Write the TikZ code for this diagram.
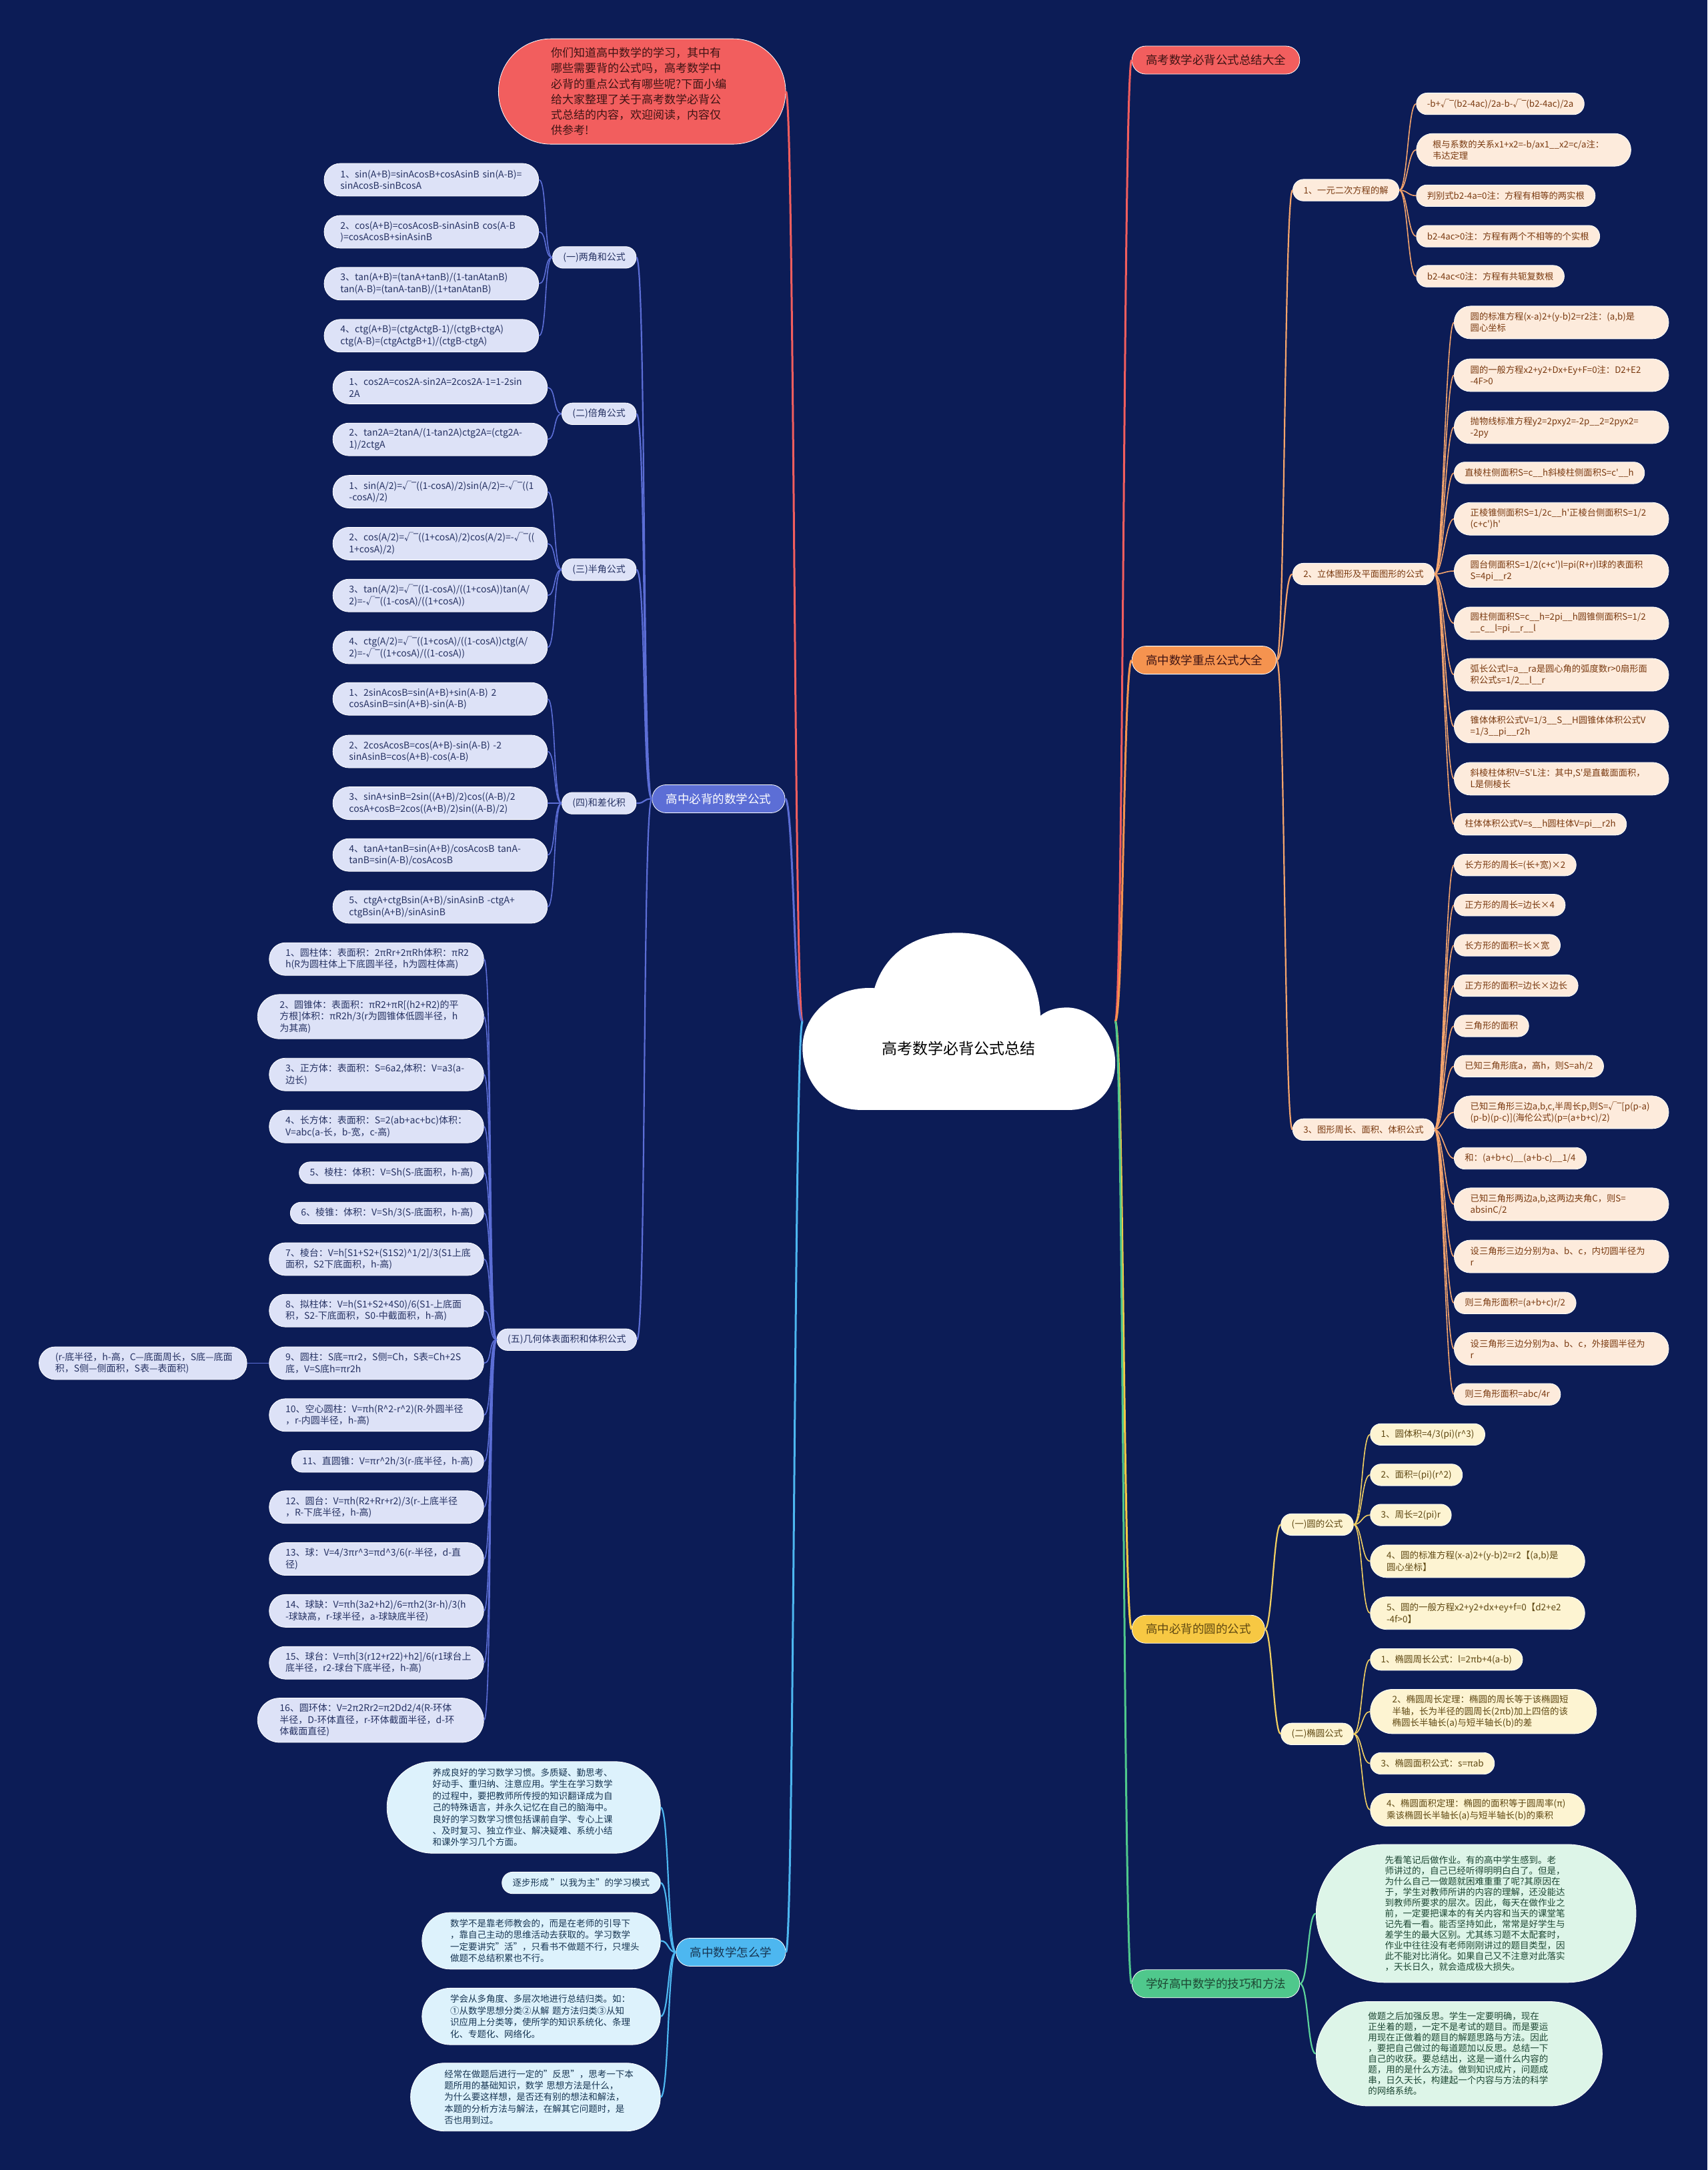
\documentclass[tikz,border=0pt]{standalone}
\usepackage{fontspec}
\setmainfont{Noto Sans CJK SC}
\newfontfamily\ovfont{DejaVu Sans}
\usepackage{tikz}
\definecolor{nightbg}{HTML}{0C1C56}
\definecolor{coral}{HTML}{F25E5E}
\definecolor{coralink}{HTML}{3E1414}
\definecolor{iris}{HTML}{5C6ED6}
\definecolor{lilac}{HTML}{DDE2F7}
\definecolor{lilacink}{HTML}{263263}
\definecolor{sky}{HTML}{4DB7F0}
\definecolor{skysoft}{HTML}{DDF2FC}
\definecolor{skyink}{HTML}{173552}
\definecolor{tangerine}{HTML}{F5934F}
\definecolor{peach}{HTML}{FDEBDC}
\definecolor{peachink}{HTML}{7A3A10}
\definecolor{peachline}{HTML}{F4A46C}
\definecolor{sun}{HTML}{F7C843}
\definecolor{cream}{HTML}{FDF4D2}
\definecolor{creamink}{HTML}{5F4812}
\definecolor{sunline}{HTML}{F2D062}
\definecolor{jade}{HTML}{4FC88C}
\definecolor{mint}{HTML}{DDF5E8}
\definecolor{mintink}{HTML}{1D4733}
\definecolor{jadeline}{HTML}{5CD39A}
\newcommand{\upar}{\textasciicircum}
\newcommand{\dbar}{\_\_}
\newcommand{\prm}{\textquotesingle}
\newcommand{\sqrtmark}{√{\ovfont ‾}}

\begin{document}
\begin{tikzpicture}[x=2.0746pt,y=-2.0746pt,
  stad/.style={rectangle,rounded corners=#1,minimum height={2*#1+0.4pt},inner xsep=#1,inner ysep=1pt,
               align=left,draw=white,line width=0.8pt,
               execute at begin node={\hyphenpenalty=10000\exhyphenpenalty=10000}},
  one/.style={stad=16pt},
  two/.style={stad=24.3pt,text width=273pt},
  three/.style={stad=33pt,text width=273pt},
  four/.style={stad=42.2pt,text width=273pt},
  five/.style={stad=50.8pt,text width=273pt},
  seven/.style={stad=68.5pt,text width=273pt},
  eight/.style={stad=78pt,text width=273pt},
  twelve/.style={stad=103.3pt,text width=273pt},
  hub/.style={stad=20.8pt,font=\fontsize{17.5}{21}\selectfont},
  lilacbox/.style={fill=lilac,text=lilacink,font=\fontsize{14}{17.5}\selectfont},
  skybox/.style={fill=skysoft,text=skyink,font=\fontsize{13.5}{17.4}\selectfont},
  peachbox/.style={fill=peach,text=peachink,font=\fontsize{13.3}{17}\selectfont},
  creambox/.style={fill=cream,text=creamink,font=\fontsize{13.5}{17.5}\selectfont},
  mintbox/.style={fill=mint,text=mintink,font=\fontsize{13.5}{16}\selectfont},
  trunk/.style={line width=3pt},
  twig/.style={line width=2.2pt},
  link/.style={line width=1.6pt}
]
  \fill[nightbg] (0,0) rectangle (1234,1568);

  \fill[white] (622,802) .. controls (597,802) and (580,782) .. (580,757)
    .. controls (580,733) and (603,712) .. (632,714)
    .. controls (640,688) and (662,674) .. (692,674)
    .. controls (730,674) and (750,700) .. (752,734)
    .. controls (758,729) and (765,728) .. (772,728)
    .. controls (792,729) and (806,748) .. (806,768)
    .. controls (806,788) and (792,802) .. (773,802) -- cycle;
  \node[font=\fontsize{23}{27}\selectfont,text=black] (root) at (693,757.6) {高考数学必背公式总结};
  \coordinate (cl) at (580,738);
  \coordinate (cr) at (806,738);

  \node[stad=78.8pt,text width=273pt,fill=coral,text=coralink,font=\fontsize{17}{23.3}\selectfont,anchor=east] (intro) at (568,66.1)
    {你们知道高中数学的学习，其中有\\哪些需要背的公式吗，高考数学中\\必背的重点公式有哪些呢?下面小编\\给大家整理了关于高考数学必背公\\式总结的内容，欢迎阅读，内容仅\\供参考!};

  \node[hub,fill=iris,text=white,anchor=east] (formula) at (567.5,577.2) {高中必背的数学公式};
  \node[hub,fill=sky,text=skyink,anchor=east] (study) at (568,1410.6) {高中数学怎么学};
  \node[hub,fill=coral,text=coralink,anchor=west] (summary) at (817.9,43.4) {高考数学必背公式总结大全};
  \node[hub,fill=tangerine,text=coralink,anchor=west] (key) at (817.9,477) {高中数学重点公式大全};
  \node[hub,fill=sun,text=creamink,anchor=west] (round) at (817.9,1177.2) {高中必背的圆的公式};
  \node[hub,fill=jade,text=mintink,anchor=west] (skill) at (817.9,1433.4) {学好高中数学的技巧和方法};

  \node[lilacbox,one,anchor=east] (s1) at (460,186) {(一)两角和公式};
  \node[lilacbox,one,anchor=east] (s2) at (460,299) {(二)倍角公式};
  \node[lilacbox,one,anchor=east] (s3) at (460,411.6) {(三)半角公式};
  \node[lilacbox,one,anchor=east] (s4) at (460,580.4) {(四)和差化积};
  \node[lilacbox,one,anchor=east] (s5) at (460.3,968) {(五)几何体表面积和体积公式};

  \node[lilacbox,two,anchor=east] (a1) at (389.5,129.9) {1、sin(A+B)=sinAcosB+cosAsinB~sin(A-B)=\\sinAcosB-sinBcosA};
  \node[lilacbox,two,anchor=east] (a2) at (389.5,167.5) {2、cos(A+B)=cosAcosB-sinAsinB~cos(A-B\\)=cosAcosB+sinAsinB};
  \node[lilacbox,two,anchor=east] (a3) at (389.5,205) {3、tan(A+B)=(tanA+tanB)/(1-tanAtanB)\\tan(A-B)=(tanA-tanB)/(1+tanAtanB)};
  \node[lilacbox,two,anchor=east] (a4) at (389.5,242.6) {4、ctg(A+B)=(ctgActgB-1)/(ctgB+ctgA)\\ctg(A-B)=(ctgActgB+1)/(ctgB-ctgA)};

  \node[lilacbox,two,anchor=east] (b1) at (395.8,280) {1、cos2A=cos2A-sin2A=2cos2A-1=1-2sin\\2A};
  \node[lilacbox,two,anchor=east] (b2) at (395.8,317.5) {2、tan2A=2tanA/(1-tan2A)ctg2A=(ctg2A-\\1)/2ctgA};

  \node[lilacbox,two,anchor=east] (c1) at (395.8,355.3) {1、sin(A/2)=\sqrtmark((1-cosA)/2)sin(A/2)=-\sqrtmark((1\\-cosA)/2)};
  \node[lilacbox,two,anchor=east] (c2) at (395.8,392.8) {2、cos(A/2)=\sqrtmark((1+cosA)/2)cos(A/2)=-\sqrtmark((\\1+cosA)/2)};
  \node[lilacbox,two,anchor=east] (c3) at (395.8,430.3) {3、tan(A/2)=\sqrtmark((1-cosA)/((1+cosA))tan(A/\\2)=-\sqrtmark((1-cosA)/((1+cosA))};
  \node[lilacbox,two,anchor=east] (c4) at (395.8,467.8) {4、ctg(A/2)=\sqrtmark((1+cosA)/((1-cosA))ctg(A/\\2)=-\sqrtmark((1+cosA)/((1-cosA))};

  \node[lilacbox,two,anchor=east] (d1) at (395.8,505) {1、2sinAcosB=sin(A+B)+sin(A-B)~2\\cosAsinB=sin(A+B)-sin(A-B)};
  \node[lilacbox,two,anchor=east] (d2) at (395.8,543) {2、2cosAcosB=cos(A+B)-sin(A-B)~-2\\sinAsinB=cos(A+B)-cos(A-B)};
  \node[lilacbox,two,anchor=east] (d3) at (395.8,580.4) {3、sinA+sinB=2sin((A+B)/2)cos((A-B)/2\\cosA+cosB=2cos((A+B)/2)sin((A-B)/2)};
  \node[lilacbox,two,anchor=east] (d4) at (395.8,617.8) {4、tanA+tanB=sin(A+B)/cosAcosB~tanA-\\tanB=sin(A-B)/cosAcosB};
  \node[lilacbox,two,anchor=east] (d5) at (395.8,655.3) {5、ctgA+ctgBsin(A+B)/sinAsinB~-ctgA+\\ctgBsin(A+B)/sinAsinB};

  \node[lilacbox,two,anchor=east] (e1) at (349.8,693) {1、圆柱体：表面积：2πRr+2πRh体积：πR2\\h(R为圆柱体上下底圆半径，h为圆柱体高)};
  \node[lilacbox,three,anchor=east] (e2) at (349.8,734.6) {2、圆锥体：表面积：πR2+πR[(h2+R2)的平\\方根]体积：πR2h/3(r为圆锥体低圆半径，h\\为其高)};
  \node[lilacbox,two,anchor=east] (e3) at (349.8,776.4) {3、正方体：表面积：S=6a2,体积：V=a3(a-\\边长)};
  \node[lilacbox,two,anchor=east] (e4) at (349.8,814) {4、长方体：表面积：S=2(ab+ac+bc)体积：\\V=abc(a-长，b-宽，c-高)};
  \node[lilacbox,one,anchor=east] (e5) at (349.8,847.4) {5、棱柱：体积：V=Sh(S-底面积，h-高)};
  \node[lilacbox,one,anchor=east] (e6) at (349.8,876.5) {6、棱锥：体积：V=Sh/3(S-底面积，h-高)};
  \node[lilacbox,two,anchor=east] (e7) at (349.8,909.8) {7、棱台：V=h[S1+S2+(S1S2)\upar1/2]/3(S1上底\\面积，S2下底面积，h-高)};
  \node[lilacbox,two,anchor=east] (e8) at (349.8,947) {8、拟柱体：V=h(S1+S2+4S0)/6(S1-上底面\\积，S2-下底面积，S0-中截面积，h-高)};
  \node[lilacbox,two,anchor=east] (e9) at (349.8,985) {9、圆柱：S底=πr2，S侧=Ch，S表=Ch+2S\\底，V=S底h=πr2h};
  \node[lilacbox,two,text width=263pt,anchor=east] (ex) at (178.6,985) {(r-底半径，h-高，C—底面周长，S底—底面\\积，S侧—侧面积，S表—表面积)};
  \node[lilacbox,two,anchor=east] (e10) at (349.8,1022.5) {10、空心圆柱：V=πh(R\upar2-r\upar2)(R-外圆半径\\，r-内圆半径，h-高)};
  \node[lilacbox,one,anchor=east] (e11) at (349.8,1056) {11、直圆锥：V=πr\upar2h/3(r-底半径，h-高)};
  \node[lilacbox,two,anchor=east] (e12) at (349.8,1089) {12、圆台：V=πh(R2+Rr+r2)/3(r-上底半径\\，R-下底半径，h-高)};
  \node[lilacbox,two,anchor=east] (e13) at (349.8,1126.5) {13、球：V=4/3πr\upar3=πd\upar3/6(r-半径，d-直\\径)};
  \node[lilacbox,two,anchor=east] (e14) at (349.8,1164) {14、球缺：V=πh(3a2+h2)/6=πh2(3r-h)/3(h\\-球缺高，r-球半径，a-球缺底半径)};
  \node[lilacbox,two,anchor=east] (e15) at (349.8,1201.5) {15、球台：V=πh[3(r12+r22)+h2]/6(r1球台上\\底半径，r2-球台下底半径，h-高)};
  \node[lilacbox,three,anchor=east] (e16) at (349.8,1243) {16、圆环体：V=2π2Rr2=π2Dd2/4(R-环体\\半径，D-环体直径，r-环体截面半径，d-环\\体截面直径)};

  \node[skybox,seven,anchor=east] (f1) at (477.5,1306) {养成良好的学习数学习惯。多质疑、勤思考、\\好动手、重归纳、注意应用。学生在学习数学\\的过程中，要把教师所传授的知识翻译成为自\\己的特殊语言，并永久记忆在自己的脑海中。\\良好的学习数学习惯包括课前自学、专心上课\\、及时复习、独立作业、解决疑难、系统小结\\和课外学习几个方面。};
  \node[skybox,one,anchor=east] (f2) at (477.5,1360.5) {逐步形成~"以我为主"的学习模式};
  \node[skybox,four,anchor=east] (f3) at (477.5,1402.4) {数学不是靠老师教会的，而是在老师的引导下\\，靠自己主动的思维活动去获取的。学习数学\\一定要讲究"活"，只看书不做题不行，只埋头\\做题不总结积累也不行。};
  \node[skybox,four,anchor=east] (f4) at (477.5,1457) {学会从多角度、多层次地进行总结归类。如：\\①从数学思想分类②从解~题方法归类③从知\\识应用上分类等，使所学的知识系统化、条理\\化、专题化、网络化。};
  \node[skybox,five,anchor=east] (f5) at (477.5,1515.3) {经常在做题后进行一定的"反思"，思考一下本\\题所用的基础知识，数学~思想方法是什么，\\为什么要这样想，是否还有别的想法和解法，\\本题的分析方法与解法，在解其它问题时，是\\否也用到过。};

  \node[peachbox,one,anchor=west] (q1) at (934.2,137.4) {1、一元二次方程的解};
  \node[peachbox,one,anchor=west] (q2) at (934.1,414.8) {2、立体图形及平面图形的公式};
  \node[peachbox,one,anchor=west] (q3) at (934.1,816.2) {3、图形周长、面积、体积公式};

  \node[peachbox,one,anchor=west] (g1) at (1023.5,75) {-b+\sqrtmark(b2-4ac)/2a-b-\sqrtmark(b2-4ac)/2a};
  \node[peachbox,two,anchor=west] (g2) at (1023.5,108.3) {根与系数的关系x1+x2=-b/ax1\dbar x2=c/a注：\\韦达定理};
  \node[peachbox,one,anchor=west] (g3) at (1023.5,141.4) {判别式b2-4a=0注：方程有相等的两实根};
  \node[peachbox,one,anchor=west] (g4) at (1023.5,170.7) {b2-4ac>0注：方程有两个不相等的个实根};
  \node[peachbox,one,anchor=west] (g5) at (1023.5,199.6) {b2-4ac<0注：方程有共轭复数根};

  \node[peachbox,two,anchor=west] (h1) at (1050.8,233) {圆的标准方程(x-a)2+(y-b)2=r2注：(a,b)是\\圆心坐标};
  \node[peachbox,two,anchor=west] (h2) at (1050.8,271.1) {圆的一般方程x2+y2+Dx+Ey+F=0注：D2+E2\\-4F>0};
  \node[peachbox,two,anchor=west] (h3) at (1050.8,308.7) {抛物线标准方程y2=2pxy2=-2p\dbar 2=2pyx2=\\-2py};
  \node[peachbox,one,anchor=west] (h4) at (1050.8,341.7) {直棱柱侧面积S=c\dbar h斜棱柱侧面积S=c\prm\dbar h};
  \node[peachbox,two,anchor=west] (h5) at (1050.8,374.9) {正棱锥侧面积S=1/2c\dbar h\prm 正棱台侧面积S=1/2\\(c+c\prm)h\prm};
  \node[peachbox,two,anchor=west] (h6) at (1050.8,412.6) {圆台侧面积S=1/2(c+c\prm)l=pi(R+r)l球的表面积\\S=4pi\dbar r2};
  \node[peachbox,two,anchor=west] (h7) at (1050.8,450.4) {圆柱侧面积S=c\dbar h=2pi\dbar h圆锥侧面积S=1/2\\\dbar c\dbar l=pi\dbar r\dbar l};
  \node[peachbox,two,anchor=west] (h8) at (1050.8,487.6) {弧长公式l=a\dbar ra是圆心角的弧度数r>0扇形面\\积公式s=1/2\dbar l\dbar r};
  \node[peachbox,two,anchor=west] (h9) at (1050.8,525) {锥体体积公式V=1/3\dbar S\dbar H圆锥体体积公式V\\=1/3\dbar pi\dbar r2h};
  \node[peachbox,two,anchor=west] (h10) at (1050.8,562.7) {斜棱柱体积V=S\prm L注：其中,S\prm 是直截面面积，\\L是侧棱长};
  \node[peachbox,one,anchor=west] (h11) at (1050.8,595.6) {柱体体积公式V=s\dbar h圆柱体V=pi\dbar r2h};

  \node[peachbox,one,anchor=west] (i1) at (1050.8,625) {长方形的周长=(长+宽)×2};
  \node[peachbox,one,anchor=west] (i2) at (1050.8,654) {正方形的周长=边长×4};
  \node[peachbox,one,anchor=west] (i3) at (1050.8,683) {长方形的面积=长×宽};
  \node[peachbox,one,anchor=west] (i4) at (1050.8,712.2) {正方形的面积=边长×边长};
  \node[peachbox,one,anchor=west] (i5) at (1050.8,741.3) {三角形的面积};
  \node[peachbox,one,anchor=west] (i6) at (1050.8,770.4) {已知三角形底a，高h，则S=ah/2};
  \node[peachbox,two,anchor=west] (i7) at (1050.8,803.7) {已知三角形三边a,b,c,半周长p,则S=\sqrtmark[p(p-a)\\(p-b)(p-c)](海伦公式)(p=(a+b+c)/2)};
  \node[peachbox,one,anchor=west] (i8) at (1050.8,837) {和：(a+b+c)\dbar(a+b-c)\dbar 1/4};
  \node[peachbox,two,anchor=west] (i9) at (1050.8,870.2) {已知三角形两边a,b,这两边夹角C，则S=\\absinC/2};
  \node[peachbox,two,anchor=west] (i10) at (1050.8,907.9) {设三角形三边分别为a、b、c，内切圆半径为\\r};
  \node[peachbox,one,anchor=west] (i11) at (1050.8,941.5) {则三角形面积=(a+b+c)r/2};
  \node[peachbox,two,anchor=west] (i12) at (1050.8,974.6) {设三角形三边分别为a、b、c，外接圆半径为\\r};
  \node[peachbox,one,anchor=west] (i13) at (1050.8,1007.5) {则三角形面积=abc/4r};

  \node[creambox,one,anchor=west] (r1) at (925.6,1101.6) {(一)圆的公式};
  \node[creambox,one,anchor=west] (r2) at (925.6,1252.9) {(二)椭圆公式};

  \node[creambox,one,anchor=west] (j1) at (990.2,1036.5) {1、圆体积=4/3(pi)(r\upar3)};
  \node[creambox,one,anchor=west] (j2) at (990.2,1065.7) {2、面积=(pi)(r\upar2)};
  \node[creambox,one,anchor=west] (j3) at (990.2,1094.7) {3、周长=2(pi)r};
  \node[creambox,two,anchor=west] (j4) at (990.2,1128.1) {4、圆的标准方程(x-a)2+(y-b)2=r2【(a,b)是\\圆心坐标】};
  \node[creambox,two,anchor=west] (j5) at (990.2,1165.6) {5、圆的一般方程x2+y2+dx+ey+f=0【d2+e2\\-4f>0】};
  \node[creambox,one,anchor=west] (k1) at (990.2,1199.1) {1、椭圆周长公式：l=2πb+4(a-b)};
  \node[creambox,three,anchor=west] (k2) at (990.2,1236.7) {2、椭圆周长定理：椭圆的周长等于该椭圆短\\半轴，长为半径的圆周长(2πb)加上四倍的该\\椭圆长半轴长(a)与短半轴长(b)的差};
  \node[creambox,one,anchor=west] (k3) at (990.2,1274.2) {3、椭圆面积公式：s=πab};
  \node[creambox,two,anchor=west] (k4) at (990.2,1307.7) {4、椭圆面积定理：椭圆的面积等于圆周率(π)\\乘该椭圆长半轴长(a)与短半轴长(b)的乘积};

  \node[mintbox,twelve,anchor=west] (m1) at (951,1382.6) {先看笔记后做作业。有的高中学生感到。老\\师讲过的，自己已经听得明明白白了。但是，\\为什么自己一做题就困难重重了呢?其原因在\\于，学生对教师所讲的内容的理解，还没能达\\到教师所要求的层次。因此，每天在做作业之\\前，一定要把课本的有关内容和当天的课堂笔\\记先看一看。能否坚持如此，常常是好学生与\\差学生的最大区别。尤其练习题不太配套时，\\作业中往往没有老师刚刚讲过的题目类型，因\\此不能对比消化。如果自己又不注意对此落实\\，天长日久，就会造成极大损失。};
  \node[mintbox,eight,anchor=west] (m2) at (951,1484) {做题之后加强反思。学生一定要明确，现在\\正坐着的题，一定不是考试的题目。而是要运\\用现在正做着的题目的解题思路与方法。因此\\，要把自己做过的每道题加以反思。总结一下\\自己的收获。要总结出，这是一道什么内容的\\题，用的是什么方法。做到知识成片，问题成\\串，日久天长，构建起一个内容与方法的科学\\的网络系统。};

  \draw[trunk,coral] (cl) .. controls +(-6,0) and +(6,0) .. (intro.east);
  \draw[trunk,iris] (cl) .. controls +(-6,0) and +(6,0) .. (formula.east);
  \draw[trunk,sky] (cl) .. controls +(-6,0) and +(6,0) .. (study.east);
  \draw[trunk,coral] (cr) .. controls +(6,0) and +(-6,0) .. (summary.west);
  \draw[trunk,tangerine] (cr) .. controls +(6,0) and +(-6,0) .. (key.west);
  \draw[trunk,sun] (cr) .. controls +(6,0) and +(-6,0) .. (round.west);
  \draw[trunk,jade] (cr) .. controls +(6,0) and +(-6,0) .. (skill.west);

  \foreach \n in {s1,s2,s3,s4,s5}
    \draw[twig,iris] (formula.west) .. controls +(-7,0) and +(7,0) .. (\n.east);
  \foreach \n in {a1,a2,a3,a4}
    \draw[link,iris] (s1.west) .. controls +(-6,0) and +(6,0) .. (\n.east);
  \foreach \n in {b1,b2}
    \draw[link,iris] (s2.west) .. controls +(-6,0) and +(6,0) .. (\n.east);
  \foreach \n in {c1,c2,c3,c4}
    \draw[link,iris] (s3.west) .. controls +(-6,0) and +(6,0) .. (\n.east);
  \foreach \n in {d1,d2,d3,d4,d5}
    \draw[link,iris] (s4.west) .. controls +(-6,0) and +(6,0) .. (\n.east);
  \foreach \n in {e1,e2,e3,e4,e5,e6,e7,e8,e9,e10,e11,e12,e13,e14,e15,e16}
    \draw[link,iris] (s5.west) .. controls +(-6,0) and +(6,0) .. (\n.east);
  \draw[link,iris] (e9.west) -- (ex.east);
  \foreach \n in {f1,f2,f3,f4,f5}
    \draw[twig,sky] (study.west) .. controls +(-6,0) and +(6,0) .. (\n.east);

  \foreach \n in {q1,q2,q3}
    \draw[twig,peachline] (key.east) .. controls +(6,0) and +(-6,0) .. (\n.west);
  \foreach \n in {g1,g2,g3,g4,g5}
    \draw[link,peachline] (q1.east) .. controls +(6,0) and +(-6,0) .. (\n.west);
  \foreach \n in {h1,h2,h3,h4,h5,h6,h7,h8,h9,h10,h11}
    \draw[link,peachline] (q2.east) .. controls +(6,0) and +(-6,0) .. (\n.west);
  \foreach \n in {i1,i2,i3,i4,i5,i6,i7,i8,i9,i10,i11,i12,i13}
    \draw[link,peachline] (q3.east) .. controls +(6,0) and +(-6,0) .. (\n.west);
  \foreach \n in {r1,r2}
    \draw[twig,sunline] (round.east) .. controls +(5,0) and +(-5,0) .. (\n.west);
  \foreach \n in {j1,j2,j3,j4,j5}
    \draw[link,sunline] (r1.east) .. controls +(6,0) and +(-6,0) .. (\n.west);
  \foreach \n in {k1,k2,k3,k4}
    \draw[link,sunline] (r2.east) .. controls +(6,0) and +(-6,0) .. (\n.west);
  \foreach \n in {m1,m2}
    \draw[twig,jadeline] (skill.east) .. controls +(6,0) and +(-6,0) .. (\n.west);
\end{tikzpicture}
\end{document}
